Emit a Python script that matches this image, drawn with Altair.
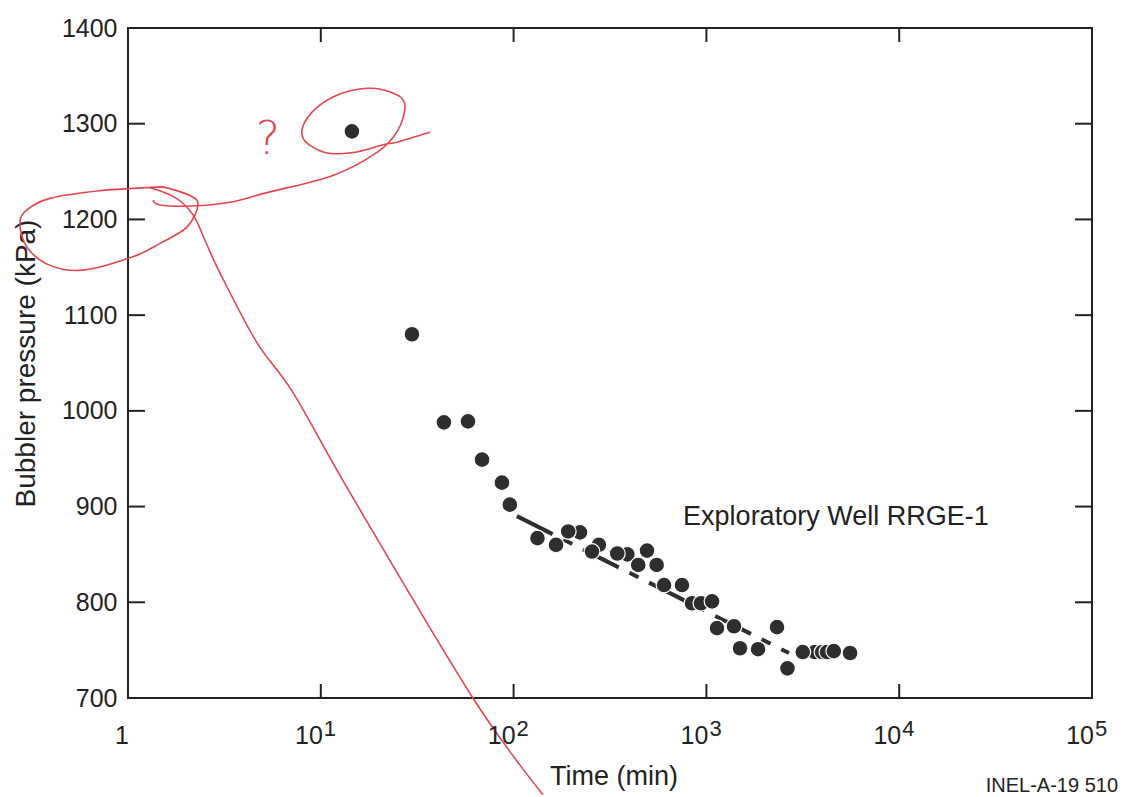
import altair as alt
import pandas as pd

# ---- data ----
time_min = [14.5, 29.7, 43.5, 58, 68.6, 87, 95.6, 133, 166, 221, 192, 277, 255, 389, 345,
            443, 492, 552, 603, 747, 842, 937, 1070, 1135, 1390, 1494, 1853, 2324, 2633,
            3658, 3980, 4220, 4580, 3160, 5560]
pressure_kpa = [1292, 1080, 988, 989, 949, 925, 902, 867, 860, 873, 874, 860, 853, 850, 851,
                839, 854, 839, 818, 818, 799, 799, 801, 773, 775, 752, 751, 774, 731,
                748, 748, 748, 749, 748, 747]

fit_time = [104, 2680]
fit_pressure = [890, 747]

well_label = "Exploratory Well RRGE-1"
well_label_time = [757]
well_label_pressure = [881]

x_tick_values = [10, 100, 1000, 10000]
y_tick_values = [800, 900, 1000, 1100, 1200, 1300]
y_label_values = [700, 800, 900, 1000, 1100, 1200, 1300, 1400]
x_label_values = [10, 100, 1000, 10000, 100000]
x_label_base = ["10", "10", "10", "10", "10"]
x_label_exp = ["1", "2", "3", "4", "5"]

x_title = "Time (min)"
y_title = "Bubbler pressure (kPa)"
figure_id = "INEL-A-19 510"

# hand-drawn red annotations (time, pressure)
loop_left_t = [1.519, 2.097, 2.307, 2.023, 1.466, 1.061, 0.585, 0.394, 0.299, 0.275, 0.299, 0.394, 0.716, 1.519]
loop_left_p = [1234, 1225, 1215, 1192, 1175, 1161, 1147, 1152, 1171, 1196, 1210, 1222, 1230, 1234]
link_t = [1.348, 1.466, 2.097, 3.38, 5.26, 11.57, 19.56, 25.1, 27.3, 23.7, 17.4, 11.57, 8.59, 8.09, 10.5, 14.7, 21.0, 25.1, 36.8]
link_p = [1220, 1215, 1214, 1218, 1228, 1246, 1270, 1293, 1320, 1332, 1337, 1328, 1307, 1285, 1270, 1270, 1278, 1281, 1291]
long_t = [1.30, 1.75, 2.17, 2.51, 3.0, 4.67, 7.18, 14.7, 61.5, 142]
long_p = [1233, 1223, 1205, 1178, 1144, 1071, 1019, 909, 700, 599]
question_t = [5.32]
question_p = [1283]

# ---- styling ----
W, H = 964, 670
FONT = "Liberation Sans"
INK = "#222222"
RED = "#e2474d"

pts = pd.DataFrame({"t": time_min, "p": pressure_kpa})
fit = pd.DataFrame({"t": fit_time, "p": fit_pressure})

rows = []
for name, ts, ps in [("loop", loop_left_t, loop_left_p), ("link", link_t, link_p), ("long", long_t, long_p)]:
    for i, (t, p) in enumerate(zip(ts, ps)):
        rows.append({"stroke": name, "i": i, "t": t, "p": p})
red = pd.DataFrame(rows)

xs = alt.Scale(type="log", domain=[1, 100000], nice=False)
ys = alt.Scale(domain=[700, 1400], nice=False, zero=False)

yaxis = alt.Axis(values=y_label_values, format="d", title=y_title, grid=False, ticks=False,
                 tickSize=0, domain=False, labelPadding=11, labelFontSize=25, labelFont=FONT,
                 labelColor=INK, titleFont=FONT, titleFontSize=28, titleColor=INK,
                 titleFontWeight="normal", titlePadding=21, labelOverlap=False)

X = alt.X("t:Q", scale=xs, axis=None)
Y = alt.Y("p:Q", scale=ys, axis=yaxis)

points = alt.Chart(pts).mark_circle(size=250, fill="#2e2e2e", opacity=1, fillOpacity=1,
                                    stroke="white", strokeWidth=1.2).encode(x=X, y=Y)

fit_line = alt.Chart(fit).mark_line(color="#2e2e2e", strokeWidth=4,
                                    strokeDash=[40, 12, 10, 12]).encode(x=X, y=Y)

well = alt.Chart(pd.DataFrame({"t": well_label_time, "p": well_label_pressure, "s": [well_label]})).mark_text(
    align="left", baseline="alphabetic", fontSize=27, font=FONT, color=INK
).encode(x=X, y=Y, text="s:N")

xt = pd.DataFrame({"t": x_tick_values})
yt = pd.DataFrame({"p": y_tick_values})
tick_style = dict(color=INK, strokeWidth=2)
bottom_ticks = alt.Chart(xt).mark_rule(**tick_style).encode(x=X, y=alt.value(H), y2=alt.value(H - 14))
top_ticks = alt.Chart(xt).mark_rule(**tick_style).encode(x=X, y=alt.value(0), y2=alt.value(14))
left_ticks = alt.Chart(yt).mark_rule(**tick_style).encode(y=Y, x=alt.value(0), x2=alt.value(17))
right_ticks = alt.Chart(yt).mark_rule(**tick_style).encode(y=Y, x=alt.value(W), x2=alt.value(W - 17))

xl = pd.DataFrame({"t": x_label_values, "b": x_label_base, "e": x_label_exp})
x_base = alt.Chart(xl).mark_text(align="right", baseline="alphabetic", dx=2, fontSize=25,
                                 font=FONT, color=INK).encode(x=X, y=alt.value(H + 46), text="b:N")
x_exp = alt.Chart(xl).mark_text(align="left", baseline="alphabetic", dx=3, fontSize=22,
                                font=FONT, color=INK).encode(x=X, y=alt.value(H + 38), text="e:N")
x_one = alt.Chart(pd.DataFrame({"t": [1], "b": ["1"]})).mark_text(
    align="center", baseline="alphabetic", dx=-6, fontSize=25, font=FONT, color=INK
).encode(x=X, y=alt.value(H + 46), text="b:N")

x_title_mark = alt.Chart(pd.DataFrame({"s": [x_title]})).mark_text(
    align="center", baseline="alphabetic", fontSize=27, font=FONT, color=INK
).encode(x=alt.value(W / 2 + 4), y=alt.value(H + 87), text="s:N")

fig_id = alt.Chart(pd.DataFrame({"s": [figure_id]})).mark_text(
    align="right", baseline="alphabetic", fontSize=20, font=FONT, color=INK
).encode(x=alt.value(990), y=alt.value(H + 94), text="s:N")

red_lines = alt.Chart(red).mark_line(color=RED, strokeWidth=1.6, interpolate="cardinal").encode(
    x=X, y=Y, detail="stroke:N", order="i:Q")
question = alt.Chart(pd.DataFrame({"t": question_t, "p": question_p, "s": ["?"]})).mark_text(
    align="center", baseline="middle", fontSize=46, font="DejaVu Sans", fontWeight="lighter",
    color=RED
).encode(x=X, y=Y, text="s:N")

chart = alt.layer(
    red_lines, question,
    bottom_ticks, top_ticks, left_ticks, right_ticks,
    fit_line, points, well,
    x_base, x_exp, x_one, x_title_mark, fig_id,
).properties(
    width=W, height=H,
    padding={"left": 128, "top": 28, "right": 32, "bottom": 99},
    autosize=alt.AutoSizeParams(type="none"),
    background="white",
).configure_view(stroke=INK, strokeWidth=2)

chart.save("out.html", embed_options={"renderer": "svg", "actions": False})
